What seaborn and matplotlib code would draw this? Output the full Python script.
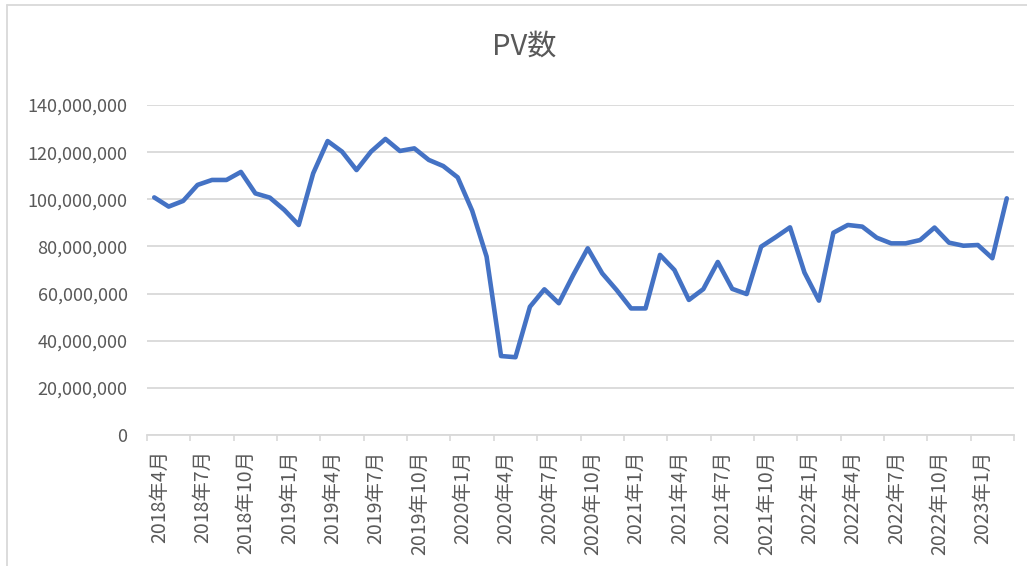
import matplotlib
matplotlib.use("Agg")
import matplotlib.pyplot as plt
import matplotlib.transforms as mtransforms
from matplotlib.lines import Line2D
from matplotlib.ticker import FuncFormatter, FixedLocator
import numpy as np
import pandas as pd
import seaborn as sns

# monthly PV, 2018-04 .. 2023-03
months = [f"{d.year}年{d.month}月" for d in pd.date_range("2018-04-01", periods=60, freq="MS")]
pv = [100.8, 96.9, 99.3, 106.1, 108.2, 108.2, 111.6, 102.5, 100.7, 95.5,
      89.1, 111.0, 124.7, 120.2, 112.4, 120.2, 125.6, 120.5, 121.6, 116.7,
      114.1, 109.3, 95.2, 75.7, 33.5, 33.0, 54.4, 61.8, 55.9, 67.9,
      79.2, 68.6, 61.5, 53.7, 53.7, 76.4, 70.0, 57.3, 61.9, 73.4,
      62.0, 59.8, 79.9, 83.9, 88.1, 68.9, 57.0, 85.8, 89.1, 88.4,
      83.7, 81.3, 81.3, 82.7, 88.0, 81.6, 80.3, 80.6, 75.0, 100.4]
pv = [v * 1e6 for v in pv]

df = pd.DataFrame({"idx": np.arange(len(months)), "month": months, "pv": pv})

sns.set_theme(style="white")
plt.rcParams["font.family"] = ["Noto Sans CJK JP", "DejaVu Sans"]

grey_txt = "#595959"
grid_c = "#D9D9D9"

fig = plt.figure(figsize=(10.27, 5.66), dpi=100)
ax = fig.add_axes([147/1027, 1-435/566, (1014-147)/1027, (435-105)/566])

sns.lineplot(data=df, x="idx", y="pv", ax=ax, color="#4472C4", linewidth=3.3)

ax.set_xlim(-0.5, len(months) - 0.5)
ax.set_ylim(0, 140e6)
ax.set_yticks(np.arange(0, 140e6 + 1, 20e6))
ax.yaxis.set_major_formatter(FuncFormatter(lambda v, p: f"{v:,.0f}"))
ax.grid(axis="y", color=grid_c, linewidth=1.3)
ax.set_axisbelow(True)

lab_pos = df["idx"][::3]
ax.set_xticks(lab_pos)
ax.set_xticklabels(df["month"][::3], rotation=90, va="top", ha="center")
ax.xaxis.set_minor_locator(FixedLocator(np.arange(-0.5, len(months), 3)))
ax.tick_params(axis="x", which="major", length=0, pad=11, labelsize=14, labelcolor=grey_txt)
ax.tick_params(axis="x", which="minor", length=4, width=1.2, color=grid_c, direction="out", bottom=True)
ax.tick_params(axis="y", length=0, pad=14, labelsize=13, labelcolor=grey_txt)

# nudge the month labels a little to the right, like the original
shift = mtransforms.ScaledTranslation(5/100, 0, fig.dpi_scale_trans)
for lab in ax.get_xticklabels():
    lab.set_transform(lab.get_transform() + shift)

for s in ["top", "right", "left"]:
    ax.spines[s].set_visible(False)
ax.spines["bottom"].set_color(grid_c)
ax.spines["bottom"].set_linewidth(1.3)
ax.set_xlabel("")
ax.set_ylabel("")

fig.text(524/1027, 1-47/566, "PV数", ha="center", va="center", fontsize=21, color=grey_txt)

# chart area border (left and top edges visible)
fig.add_artist(Line2D([7/1027, 7/1027], [0, 1-5/566], transform=fig.transFigure, color=grid_c, lw=1.3))
fig.add_artist(Line2D([7/1027, 1], [1-5/566, 1-5/566], transform=fig.transFigure, color=grid_c, lw=1.3))

fig.savefig("out.png", dpi=100, facecolor="white")
